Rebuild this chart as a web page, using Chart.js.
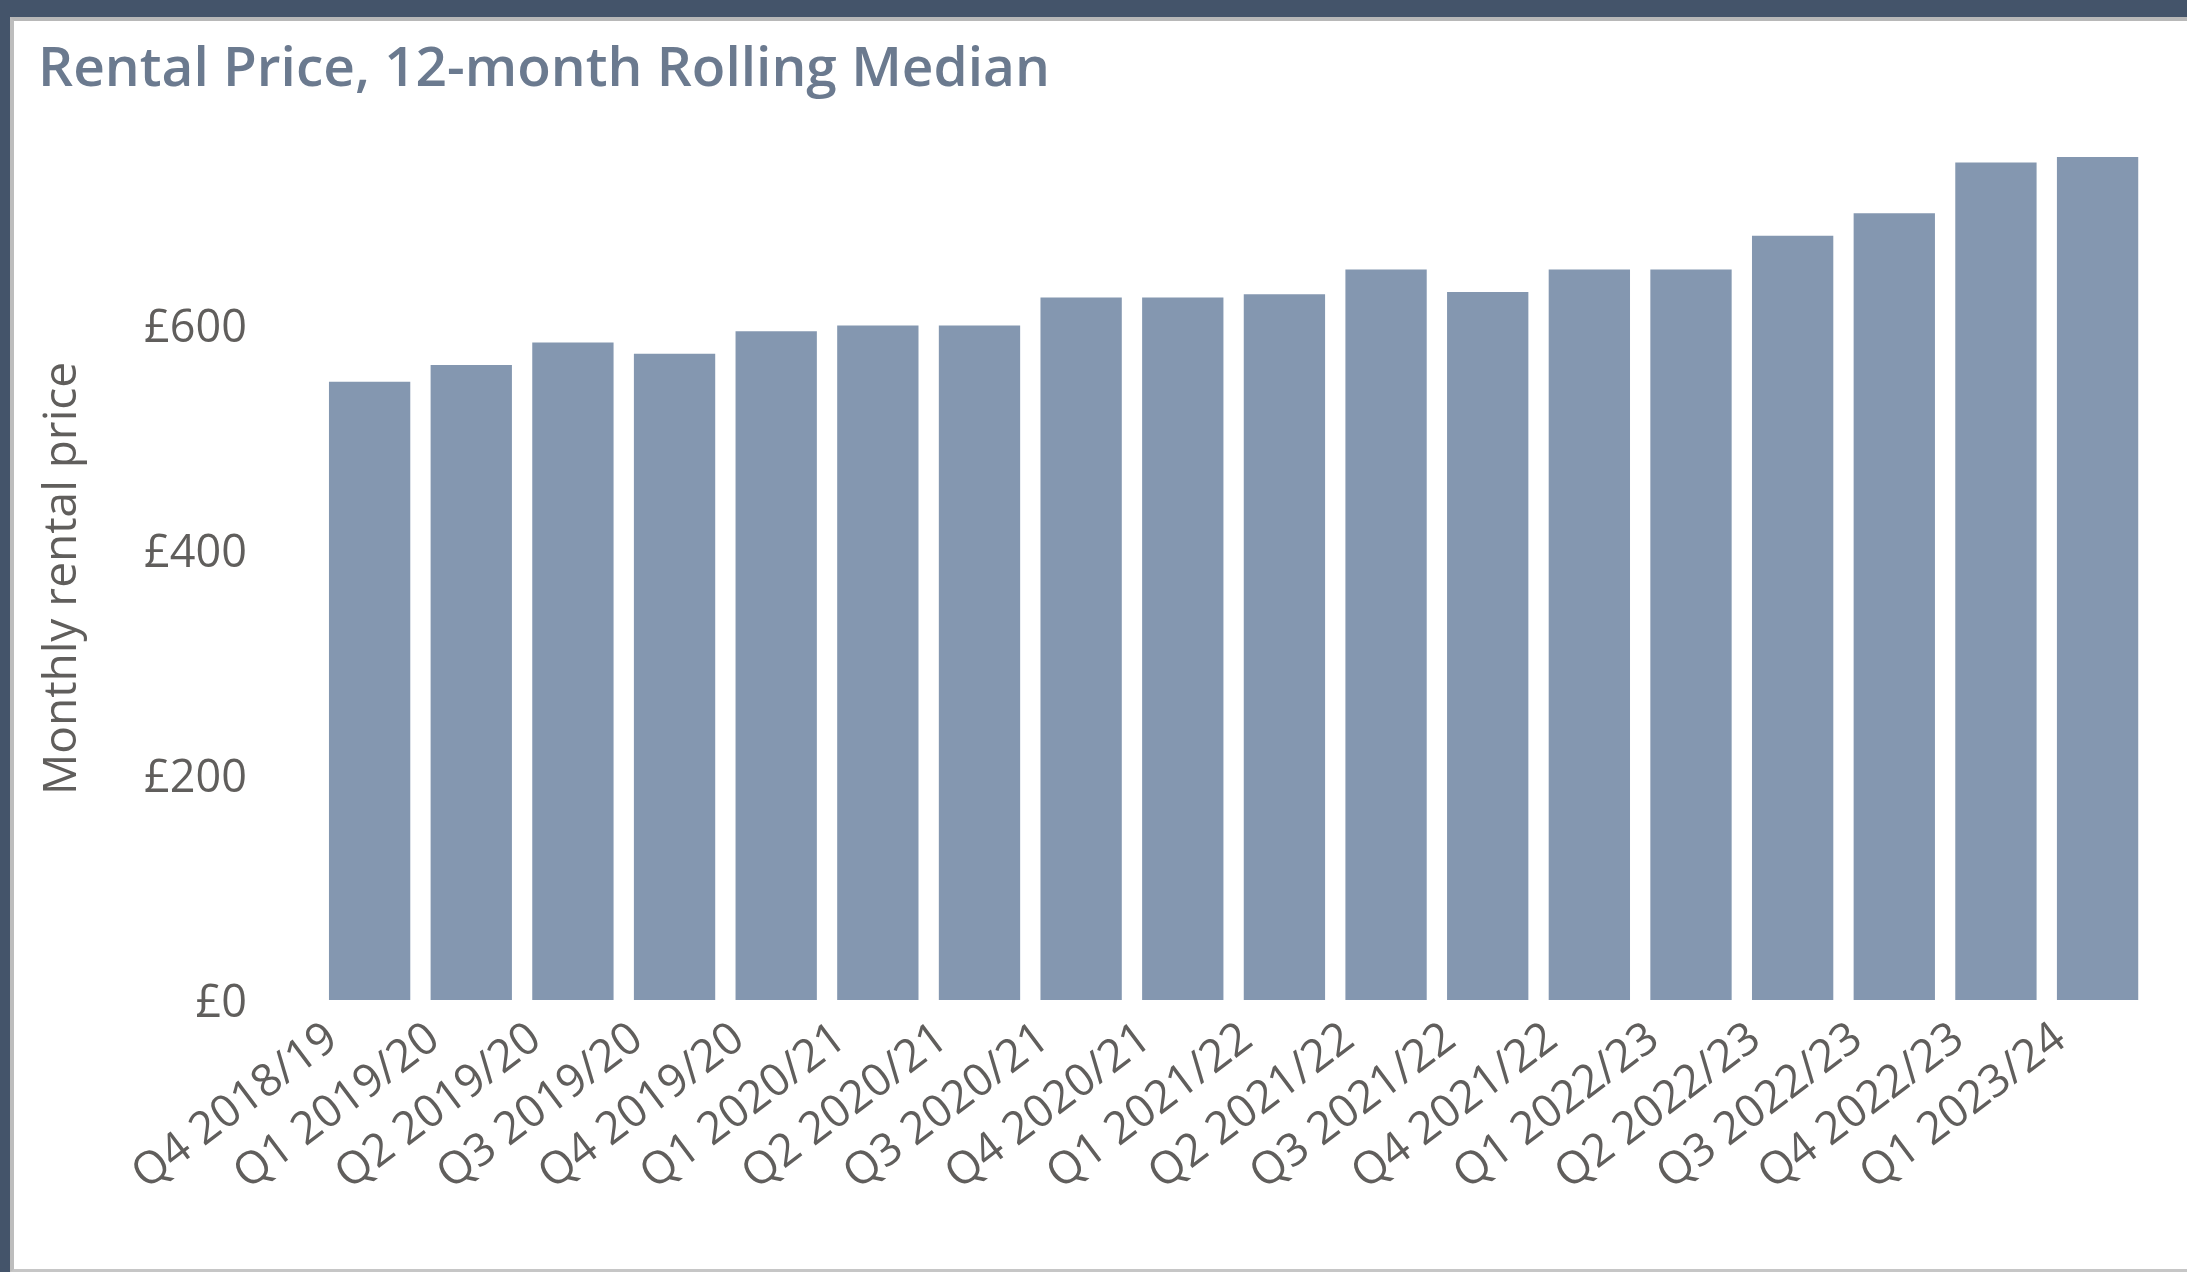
<!DOCTYPE html>
<html>
<head>
<meta charset="utf-8">
<title>Rental Price, 12-month Rolling Median</title>
<script src="https://cdn.jsdelivr.net/npm/chart.js@4.4.1/dist/chart.umd.min.js"></script>
<style>
  html, body { margin: 0; padding: 0; background: #fff; }
  #frame {
    position: absolute; left: 0; top: 0;
    width: 2187px; height: 1272px;
    box-sizing: border-box;
    border-top: 17px solid #44546A;
    border-left: 10px solid #44546A;
  }
  #inner {
    box-sizing: border-box;
    width: 2177px; height: 1255px;
    border-top: 4px solid #B8B8B8;
    border-left: 4px solid #BDBDBD;
    border-bottom: 3px solid #C6C6C6;
  }
  #rent-chart { display: block; }
</style>
</head>
<body>
<div id="frame"><div id="inner">
  <canvas id="rent-chart" width="2173" height="1248"></canvas>
</div></div>

<script>
// quarters on the x axis
const quarters = [
  'Q4 2018/19', 'Q1 2019/20', 'Q2 2019/20', 'Q3 2019/20', 'Q4 2019/20',
  'Q1 2020/21', 'Q2 2020/21', 'Q3 2020/21', 'Q4 2020/21',
  'Q1 2021/22', 'Q2 2021/22', 'Q3 2021/22', 'Q4 2021/22',
  'Q1 2022/23', 'Q2 2022/23', 'Q3 2022/23', 'Q4 2022/23',
  'Q1 2023/24'
];

// median monthly rent (£)
const medianRent = [
  550, 565, 585, 575, 595,
  600, 600, 625, 625,
  628, 650, 630, 650,
  650, 680, 700, 745,
  750
];

// y axis
const yMin = 0;
const yMax = 750;
const yStep = 200;

const barColor = '#8497B0';
const textGrey = '#605E5C';
const fontFamily = "'Segoe UI', 'Open Sans', sans-serif";

const ctx = document.getElementById('rent-chart').getContext('2d');

new Chart(ctx, {
  type: 'bar',
  data: {
    labels: quarters,
    datasets: [{
      label: 'Monthly rental price',
      data: medianRent,
      backgroundColor: barColor,
      borderWidth: 0,
      barPercentage: 0.8,
      categoryPercentage: 1.0
    }]
  },
  options: {
    responsive: false,
    devicePixelRatio: 1,
    animation: false,
    layout: {
      padding: { left: 24, right: 38.6, top: 0, bottom: 0 }
    },
    plugins: {
      legend: { display: false },
      tooltip: { enabled: false },
      title: {
        display: true,
        text: 'Rental Price, 12-month Rolling Median',
        align: 'start',
        color: '#6B7A8F',
        font: { family: fontFamily, size: 55, weight: '600' },
        padding: { top: 16.5, bottom: 53.5 }
      }
    },
    scales: {
      x: {
        grid: { display: false, drawTicks: false },
        border: { display: false },
        ticks: {
          color: textGrey,
          font: { family: fontFamily, size: 45 },
          autoSkip: false,
          minRotation: 37,
          maxRotation: 37,
          padding: 12,
          labelOffset: -37
        },
        // fix the axis height so the plot bottom sits where the reference has it
        afterFit: scale => { scale.height = 269; }
      },
      y: {
        min: yMin,
        max: yMax,
        grid: { display: false, drawTicks: false },
        border: { display: false },
        ticks: {
          stepSize: yStep,
          includeBounds: false,
          color: textGrey,
          font: { family: fontFamily, size: 45 },
          padding: 71.8,
          labelOffset: 4,
          callback: v => '£' + v
        },
        title: {
          display: true,
          text: 'Monthly rental price',
          color: textGrey,
          font: { family: fontFamily, size: 46, lineHeight: 0.94 },
          padding: { top: 3, bottom: 0 }
        },
        afterFit: scale => { scale.width = 280.8; }
      }
    }
  }
});
</script>
</body>
</html>
